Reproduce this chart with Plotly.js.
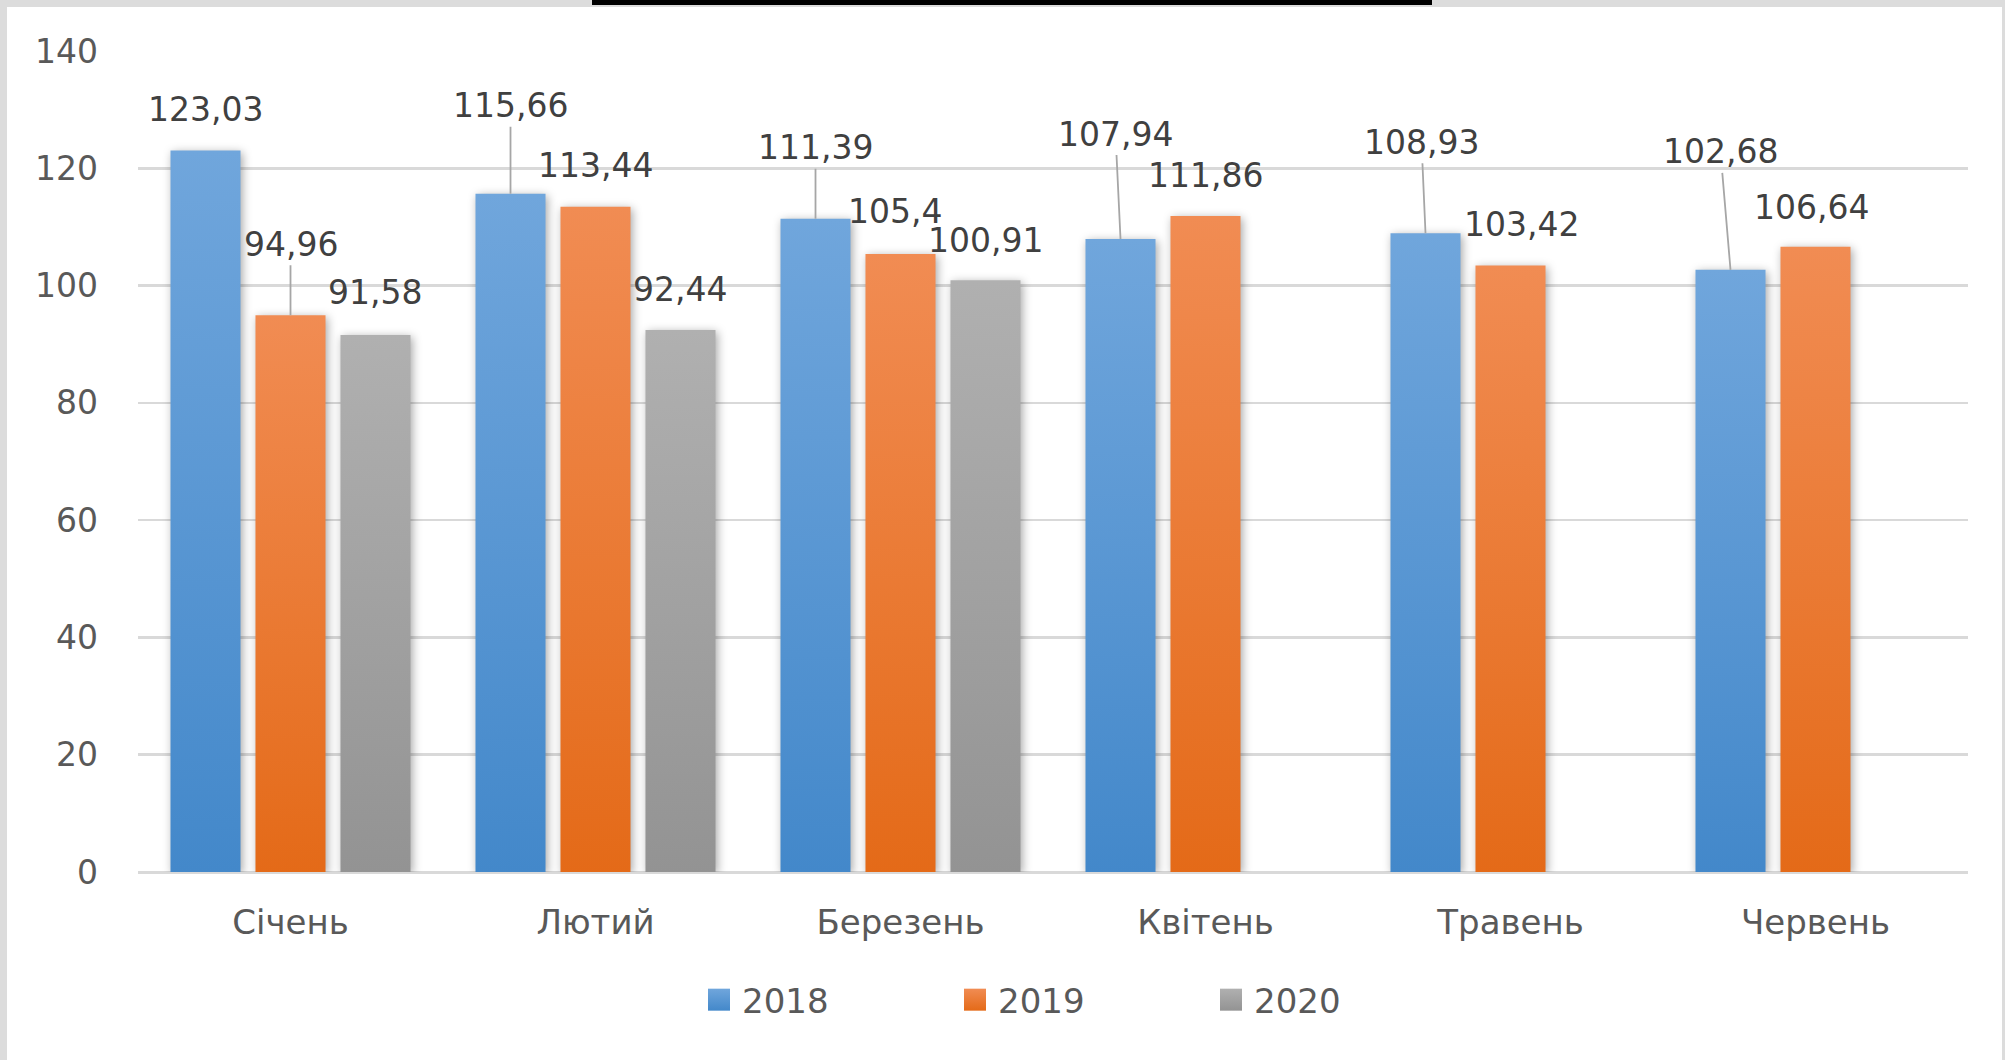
<!DOCTYPE html>
<html>
<head>
<meta charset="utf-8">
<script src="https://cdn.plot.ly/plotly-3.0.1.min.js"></script>
<style>
html,body{margin:0;padding:0;background:#fff;}
#wrap{position:relative;width:2005px;height:1060px;overflow:hidden;background:#fff;}
#chart{position:absolute;left:0;top:0;width:2005px;height:1060px;}
.frame{position:absolute;background:#dcdcdc;pointer-events:none;}
</style>
</head>
<body>
<div id="wrap">
  <div id="chart"></div>
  <div class="frame" style="left:0;top:0;width:2005px;height:7px;"></div>
  <div class="frame" style="left:0;top:0;width:7px;height:1060px;"></div>
  <div class="frame" style="right:0;top:0;width:3px;height:1060px;"></div>
  <div style="position:absolute;left:592px;top:0;width:840px;height:5px;background:#000;"></div>
</div>
<script>
// ---- data ----
const months = ['Січень', 'Лютий', 'Березень', 'Квітень', 'Травень', 'Червень'];
const years = ['2018', '2019', '2020'];
const v2018 = [123.03, 115.66, 111.39, 107.94, 108.93, 102.68];
const v2019 = [94.96, 113.44, 105.4, 111.86, 103.42, 106.64];
const v2020 = [91.58, 92.44, 100.91, null, null, null];
const yTicks = [0, 20, 40, 60, 80, 100, 120, 140];

// ---- label placement (pixel offsets of each data label from its bar top) ----
const labelDx = [[0, 0, 0, -5, -4, -10], [0, 0, -6, 0, 11, -4], [0, 0, 0, 0, 0, 0]];
const labelDy = [[-41, -88, -71, -105, -91, -118], [-71, -41, -42, -41, -41, -39], [-42, -40, -40, 0, 0, 0]];
const leader = [[0, 1, 1, 1, 1, 1], [1, 0, 0, 0, 0, 0], [0, 0, 0, 0, 0, 0]];

// ---- styles ----
const baseColors = ['#5b9bd5', '#ed7d31', '#a5a5a5'];
const gradStops = [['#70a6dc', '#4388ca'], ['#f18c53', '#e46a18'], ['#b0b0b0', '#939393']];
const FONT = 'DejaVu Sans, Verdana, sans-serif';
const BARGAP = 0.164;
const GROUPGAP = 0.176;

const series = [v2018, v2019, v2020];
const traces = series.map((vals, k) => ({
  type: 'bar',
  name: years[k],
  x: months,
  y: vals,
  marker: {color: baseColors[k], line: {width: 0}},
  hoverinfo: 'skip'
}));

const fmt = v => String(v).replace('.', ',');
const annotations = [];
series.forEach((vals, k) => {
  vals.forEach((v, i) => {
    if (v === null) return;
    annotations.push({
      x: i + (k - 1) * (1 - BARGAP) / 3,
      y: v,
      xref: 'x', yref: 'y',
      text: fmt(v),
      showarrow: true,
      arrowhead: 0,
      arrowwidth: 1.8,
      arrowcolor: leader[k][i] ? '#a6a6a6' : 'rgba(0,0,0,0)',
      standoff: 0,
      startstandoff: 0,
      ax: labelDx[k][i],
      ay: labelDy[k][i],
      font: {family: FONT, size: 33, color: '#404040'}
    });
  });
});

const layout = {
  width: 2005, height: 1060,
  margin: {l: 138, r: 37, t: 51, b: 188, pad: 0},
  paper_bgcolor: 'rgba(0,0,0,0)',
  plot_bgcolor: 'rgba(0,0,0,0)',
  barmode: 'group',
  bargap: BARGAP,
  bargroupgap: GROUPGAP,
  font: {family: FONT, color: '#595959'},
  xaxis: {
    type: 'category',
    showgrid: false, showline: false, zeroline: false,
    ticks: '',
    ticklabelstandoff: 27,
    tickfont: {family: FONT, size: 34, color: '#595959'},
    automargin: false
  },
  yaxis: {
    range: [0, 140],
    tickvals: yTicks,
    ticktext: yTicks.map(String),
    showgrid: true, gridcolor: '#d9d9d9', gridwidth: 2.5,
    zeroline: true, zerolinecolor: '#d9d9d9', zerolinewidth: 3,
    showline: false, ticks: '',
    ticklabelstandoff: 39,
    tickfont: {family: FONT, size: 33, color: '#595959'},
    automargin: false
  },
  showlegend: true,
  legend: {
    orientation: 'h',
    x: 0.3082, xanchor: 'left',
    y: -0.156, yanchor: 'middle',
    entrywidth: 211,
    itemwidth: 30,
    font: {family: FONT, size: 34, color: '#595959'},
    bgcolor: 'rgba(0,0,0,0)'
  },
  annotations: annotations
};

Plotly.newPlot('chart', traces, layout, {staticPlot: true, displayModeBar: false}).then(gd => {
  const ns = 'http://www.w3.org/2000/svg';
  const svg = gd.querySelector('svg.main-svg');
  let defs = svg.querySelector('defs');
  if (!defs) { defs = document.createElementNS(ns, 'defs'); svg.insertBefore(defs, svg.firstChild); }
  gradStops.forEach((st, k) => {
    const lg = document.createElementNS(ns, 'linearGradient');
    lg.setAttribute('id', 'bargrad' + k);
    lg.setAttribute('x1', '0'); lg.setAttribute('y1', '0');
    lg.setAttribute('x2', '0'); lg.setAttribute('y2', '1');
    st.forEach((c, j) => {
      const s = document.createElementNS(ns, 'stop');
      s.setAttribute('offset', j === 0 ? '0' : '1');
      s.setAttribute('stop-color', c);
      lg.appendChild(s);
    });
    defs.appendChild(lg);
  });
  gd.querySelectorAll('.barlayer .trace').forEach((tr, k) => {
    tr.querySelectorAll('.point path').forEach(p => {
      p.style.fill = 'url(#bargrad' + k + ')';
      p.style.filter = 'drop-shadow(2px 2px 5px rgba(0,0,0,0.35))';
    });
  });
  gd.querySelectorAll('.legend .traces').forEach((tr, k) => {
    const p = tr.querySelector('.legendpoints path');
    if (p) {
      p.style.fill = 'url(#bargrad' + k + ')';
      p.setAttribute('d', 'M8,11H-14V-11H8Z');
    }
  });
});
</script>
</body>
</html>
